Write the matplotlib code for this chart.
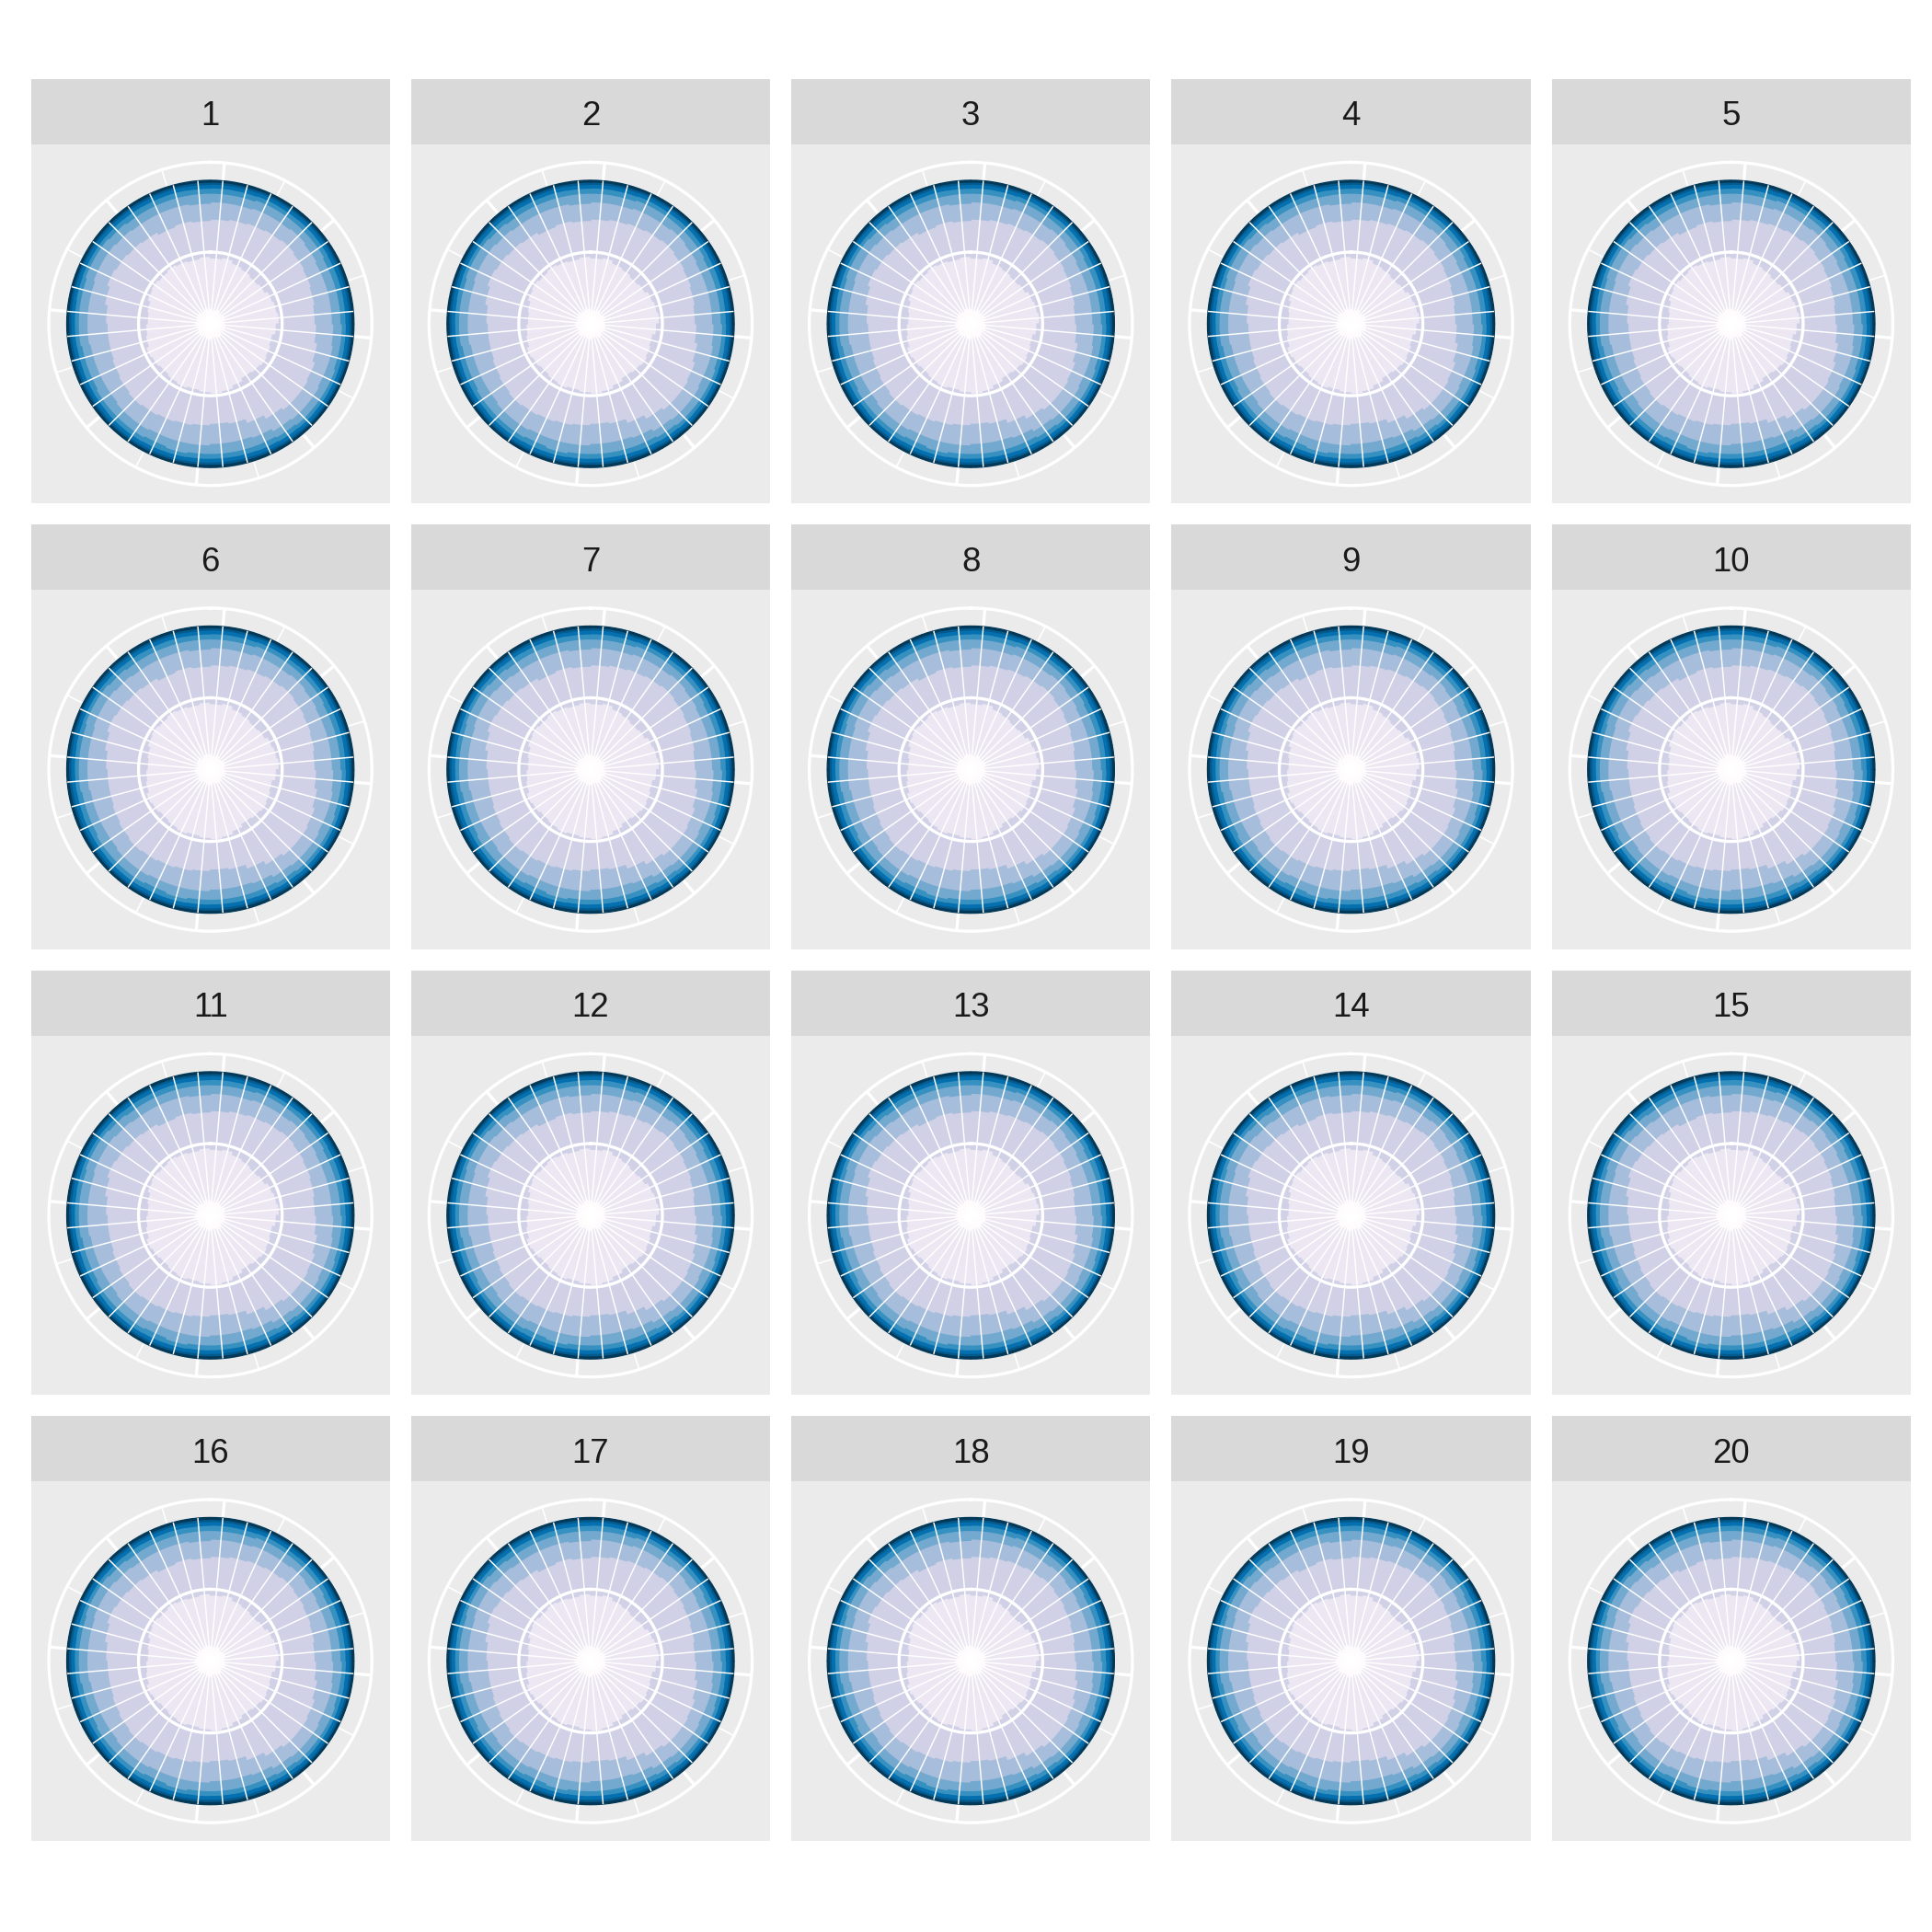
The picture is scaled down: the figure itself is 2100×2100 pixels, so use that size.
import numpy as np
import matplotlib.pyplot as plt

plt.rcParams['font.family'] = ['Liberation Sans', 'DejaVu Sans']

# facets and the direction bins (x scale runs from -5 to 355)
facets = list(range(1, 21))
directions = np.arange(0, 360, 10)
major_breaks = [0, 45, 90, 135, 180, 225, 270, 315]
minor_breaks = [22.5, 67.5, 112.5, 157.5, 202.5, 247.5, 292.5, 337.5]

level_colors = ['#fff7fb', '#ece7f2', '#d0d1e6', '#a6bddb', '#74a9cf',
                '#3690c0', '#0570b0', '#045a8d', '#023858']

# cumulative share reached at the top of each level, per direction
cum1 = [0.11, 0.10, 0.12, 0.11, 0.10, 0.11, 0.12, 0.11, 0.10, 0.11, 0.11, 0.12,
        0.10, 0.11, 0.12, 0.11, 0.10, 0.11, 0.12, 0.11, 0.10, 0.11, 0.11, 0.12,
        0.10, 0.11, 0.12, 0.11, 0.10, 0.11, 0.11, 0.12, 0.10, 0.11, 0.12, 0.11]
cum2 = [0.46, 0.47, 0.45, 0.44, 0.43, 0.44, 0.46, 0.47, 0.48, 0.46, 0.44, 0.45,
        0.46, 0.45, 0.44, 0.46, 0.48, 0.49, 0.48, 0.47, 0.48, 0.47, 0.46, 0.47,
        0.48, 0.46, 0.45, 0.44, 0.45, 0.47, 0.48, 0.47, 0.48, 0.47, 0.46, 0.47]
cum3 = [0.73, 0.74, 0.75, 0.76, 0.77, 0.76, 0.75, 0.74, 0.73, 0.74, 0.76, 0.78,
        0.79, 0.79, 0.77, 0.74, 0.71, 0.70, 0.71, 0.72, 0.73, 0.74, 0.75, 0.74,
        0.73, 0.72, 0.72, 0.73, 0.75, 0.77, 0.76, 0.75, 0.74, 0.72, 0.73, 0.72]
cum4 = [0.85, 0.85, 0.86, 0.86, 0.87, 0.86, 0.85, 0.85, 0.85, 0.86, 0.87, 0.87,
        0.88, 0.88, 0.87, 0.85, 0.84, 0.84, 0.85, 0.85, 0.85, 0.86, 0.86, 0.85,
        0.85, 0.85, 0.86, 0.86, 0.86, 0.87, 0.87, 0.86, 0.85, 0.85, 0.85, 0.84]
cum5 = [0.91, 0.91, 0.92, 0.92, 0.92, 0.92, 0.91, 0.91, 0.91, 0.92, 0.92, 0.93,
        0.93, 0.93, 0.92, 0.91, 0.91, 0.91, 0.91, 0.92, 0.91, 0.92, 0.92, 0.92,
        0.91, 0.91, 0.92, 0.92, 0.92, 0.93, 0.93, 0.92, 0.91, 0.91, 0.91, 0.91]
cum6 = [0.947, 0.946, 0.950, 0.949, 0.952, 0.951, 0.947, 0.946, 0.945, 0.948, 0.951, 0.953,
        0.954, 0.955, 0.951, 0.947, 0.944, 0.943, 0.944, 0.947, 0.948, 0.951, 0.951, 0.948,
        0.947, 0.945, 0.947, 0.948, 0.951, 0.953, 0.953, 0.951, 0.948, 0.946, 0.947, 0.945]
cum7 = [0.973, 0.972, 0.975, 0.974, 0.976, 0.975, 0.973, 0.972, 0.971, 0.973, 0.975, 0.976,
        0.977, 0.978, 0.975, 0.972, 0.970, 0.969, 0.970, 0.972, 0.973, 0.975, 0.975, 0.973,
        0.972, 0.971, 0.972, 0.973, 0.975, 0.976, 0.977, 0.975, 0.973, 0.972, 0.973, 0.971]
cum8 = [0.988, 0.987, 0.989, 0.988, 0.989, 0.989, 0.988, 0.987, 0.987, 0.988, 0.989, 0.989,
        0.989, 0.990, 0.989, 0.987, 0.986, 0.986, 0.986, 0.987, 0.988, 0.989, 0.989, 0.988,
        0.987, 0.987, 0.987, 0.988, 0.989, 0.989, 0.989, 0.989, 0.988, 0.987, 0.988, 0.987]
cum9 = [1.0] * 36

cum_levels = [cum1, cum2, cum3, cum4, cum5, cum6, cum7, cum8, cum9]

W = 2100.0
fig = plt.figure(figsize=(7, 7), dpi=300, facecolor='white')

panel_w = 390.3
strip_h = 71.2
gap = 23.0
left0 = 33.5
top0 = 85.7
x_shift = 5  # scale starts at -5, half a bin

theta = np.deg2rad(directions + x_shift)
bin_w = np.deg2rad(10)
circ = np.linspace(0, 2 * np.pi, 721)

for i, lab in enumerate(facets):
    row, col = divmod(i, 5)
    x0 = left0 + col * (panel_w + gap)
    t0 = top0 + row * (strip_h + panel_w + gap)

    # strip
    sax = fig.add_axes([x0 / W, 1 - (t0 + strip_h) / W, panel_w / W, strip_h / W])
    sax.set_facecolor('#D9D9D9')
    sax.set_xticks([])
    sax.set_yticks([])
    for s in sax.spines.values():
        s.set_visible(False)
    sax.text(0.5, 0.42, str(lab), ha='center', va='center', fontsize=8.8,
             color='#1A1A1A', transform=sax.transAxes)

    # panel background
    rect = [x0 / W, 1 - (t0 + strip_h + panel_w) / W, panel_w / W, panel_w / W]
    bax = fig.add_axes(rect)
    bax.set_facecolor('#EBEBEB')
    bax.set_xticks([])
    bax.set_yticks([])
    for s in bax.spines.values():
        s.set_visible(False)

    ax = fig.add_axes(rect, projection='polar')
    ax.set_theta_zero_location('N')
    ax.set_theta_direction(-1)
    ax.set_ylim(0, 1.25)
    ax.set_axis_off()

    # grid under the data
    ax.vlines(np.deg2rad(np.array(major_breaks) + x_shift), 0, 1.125, colors='white',
              linewidth=0.8, zorder=0.5, capstyle='butt')
    ax.vlines(np.deg2rad(np.array(minor_breaks) + x_shift), 0, 1.125, colors='white',
              linewidth=0.4, zorder=0.5, capstyle='butt')
    ax.plot(circ, np.full_like(circ, 1.125), color='white', linewidth=0.8, zorder=0.5)

    # stacked bars
    prev = np.zeros(len(directions))
    for cum, c in zip(cum_levels, level_colors):
        top = np.array(cum)
        ax.bar(theta, top - prev, width=bin_w, bottom=prev, color=c, edgecolor=c,
               linewidth=0.3, align='center', zorder=2)
        prev = top

    # white overlay lines
    ax.vlines(theta, 0, 1, colors='white', linewidth=0.35, zorder=3)
    ax.plot(circ, np.full_like(circ, 0.5), color='white', linewidth=0.8, zorder=3)

fig.savefig('out.png', dpi=300, facecolor='white')
